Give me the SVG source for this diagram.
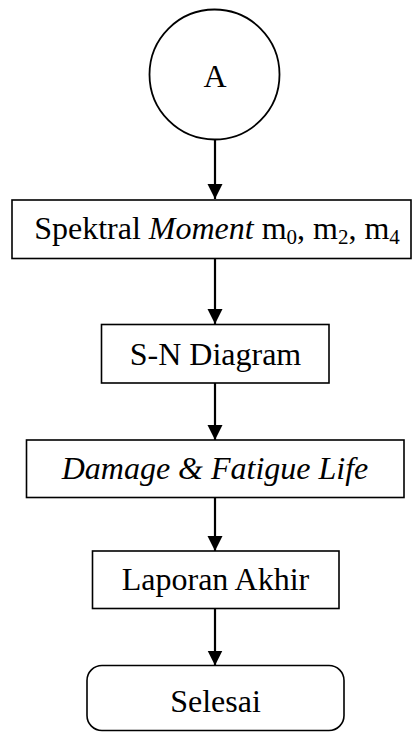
<svg xmlns="http://www.w3.org/2000/svg" width="412" height="733" viewBox="0 0 412 733">
<style>
.box{fill:#fff;stroke:#000;stroke-width:1.6}
.t{font-family:"Liberation Serif","Times New Roman",serif;font-size:32px;fill:#000;text-anchor:middle}
.c{stroke:#000;stroke-width:2.2;fill:none}
</style>
<defs>
<marker id="ah" markerUnits="userSpaceOnUse" markerWidth="16" markerHeight="16" viewBox="0 0 16 16" refX="15" refY="8" orient="auto">
<path d="M0,0.5 L15,8 L0,15.5 Z" fill="#000"/>
</marker>
</defs>
<rect width="412" height="733" fill="#fff"/>
<g id="connectors">
<line class="c" x1="215" y1="139.5" x2="215" y2="199" marker-end="url(#ah)"/>
<line class="c" x1="215" y1="258.5" x2="215" y2="324" marker-end="url(#ah)"/>
<line class="c" x1="215" y1="383" x2="215" y2="440" marker-end="url(#ah)"/>
<line class="c" x1="215" y1="497.5" x2="215" y2="551" marker-end="url(#ah)"/>
<line class="c" x1="215" y1="608.5" x2="215" y2="665.5" marker-end="url(#ah)"/>
</g>
<g id="nodeA">
<circle cx="214.5" cy="74.5" r="65" fill="#fff" stroke="#000" stroke-width="1.8"/>
<text class="t" x="215" y="86.5">A</text>
</g>
<g id="spektral">
<rect class="box" x="12" y="200" width="399" height="58.5"/>
<text class="t" x="217" y="238.5">Spektral <tspan font-style="italic">Moment</tspan> m<tspan font-size="21" dy="5">0</tspan><tspan dy="-5">, m</tspan><tspan font-size="21" dy="5">2</tspan><tspan dy="-5">, m</tspan><tspan font-size="21" dy="5">4</tspan></text>
</g>
<g id="sn">
<rect class="box" x="101.5" y="324.5" width="227.5" height="58.5"/>
<text class="t" x="215.5" y="364.5">S-N Diagram</text>
</g>
<g id="damage">
<rect class="box" x="26.5" y="440" width="377.5" height="57.5"/>
<text class="t" x="215" y="478.5" font-style="italic">Damage &amp; Fatigue Life</text>
</g>
<g id="laporan">
<rect class="box" x="92.5" y="551" width="246.5" height="57.5"/>
<text class="t" x="215.5" y="589.5">Laporan Akhir</text>
</g>
<g id="selesai">
<rect class="box" x="87" y="665.5" width="257" height="65" rx="15" ry="15"/>
<text class="t" x="215.5" y="712">Selesai</text>
</g>
</svg>
